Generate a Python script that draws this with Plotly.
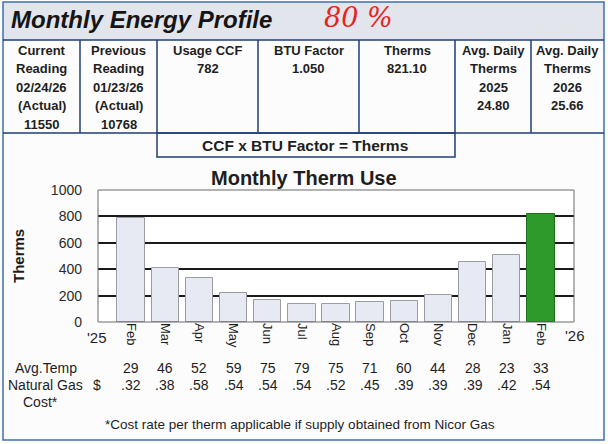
import plotly.graph_objects as go

# ---------------- data ----------------
months = ["Feb", "Mar", "Apr", "May", "Jun", "Jul", "Aug", "Sep", "Oct", "Nov", "Dec", "Jan", "Feb"]
therms = [790, 410, 330, 217, 170, 140, 140, 150, 160, 202, 455, 506, 821]
avg_temp = [29, 46, 52, 59, 75, 79, 75, 71, 60, 44, 28, 23, 33]
gas_cost = [".32", ".38", ".58", ".54", ".54", ".54", ".52", ".45", ".39", ".39", ".39", ".42", ".54"]
year_labels = ["'25", "'26"]
year_pos = [-1, 13]
y_ticks = [0, 200, 400, 600, 800, 1000]

table_cols = [
    ["Current", "Reading", "02/24/26", "(Actual)", "11550"],
    ["Previous", "Reading", "01/23/26", "(Actual)", "10768"],
    ["Usage CCF", "782"],
    ["BTU Factor", "1.050"],
    ["Therms", "821.10"],
    ["Avg. Daily", "Therms", "2025", "24.80"],
    ["Avg. Daily", "Therms", "2026", "25.66"],
]
formula_text = "CCF x BTU Factor = Therms"
title_text = "Monthly Energy Profile"
chart_title = "Monthly Therm Use"
footnote = "*Cost rate per therm applicable if supply obtained from Nicor Gas"

# ---------------- geometry helpers ----------------
W, H = 608, 444
ML, MR, MT, MB = 98, 34, 190, 122
PW, PH = W - ML - MR, H - MT - MB
XR = [-0.97, 12.97]


def px(x):
    return (x - ML) / PW


def py(y):
    return 1 - (y - MT) / PH


def dx(v):
    return (v - XR[0]) / (XR[1] - XR[0])


FONT = "Liberation Sans, Arial, sans-serif"
DARK = "#1e1e1e"
LINE_BLUE = "#1f3f73"
OUTER_BLUE = "#3f6fae"

colors = ["#e7e9f3"] * (len(months) - 1) + ["#2f9a2c"]
line_cols = ["#9a9ca3"] * (len(months) - 1) + ["#1f6e1c"]

fig = go.Figure()
fig.add_trace(go.Bar(
    x=list(range(len(months))), y=therms, width=0.8,
    marker=dict(color=colors, line=dict(color=line_cols, width=1)),
    hoverinfo="skip",
))

shapes = []
annotations = []

# header band
shapes.append(dict(type="rect", xref="paper", yref="paper", x0=px(3), x1=px(604), y0=py(2), y1=py(40),
                   fillcolor="#e3e5ec", line=dict(width=0), layer="below"))
# outer border
shapes.append(dict(type="rect", xref="paper", yref="paper", x0=px(3), x1=px(604), y0=py(2), y1=py(440),
                   fillcolor="rgba(0,0,0,0)", line=dict(color=OUTER_BLUE, width=1.5)))
# table lines
shapes.append(dict(type="line", xref="paper", yref="paper", x0=px(3), x1=px(604), y0=py(40), y1=py(40),
                   line=dict(color=LINE_BLUE, width=1.5)))
shapes.append(dict(type="line", xref="paper", yref="paper", x0=px(3), x1=px(604), y0=py(133), y1=py(133),
                   line=dict(color=LINE_BLUE, width=1.5)))
col_edges = [3, 80, 157, 258, 359, 455, 531, 604]
for xe in col_edges[1:-1]:
    shapes.append(dict(type="line", xref="paper", yref="paper", x0=px(xe), x1=px(xe), y0=py(40), y1=py(133),
                       line=dict(color=LINE_BLUE, width=1.5)))
# formula box
shapes.append(dict(type="rect", xref="paper", yref="paper", x0=px(157), x1=px(455), y0=py(133), y1=py(157),
                   fillcolor="rgba(0,0,0,0)", line=dict(color=LINE_BLUE, width=1.5)))
# plot frame
shapes.append(dict(type="rect", xref="paper", yref="paper", x0=0, x1=1, y0=0, y1=1,
                   fillcolor="rgba(0,0,0,0)", line=dict(color="#6a6a6a", width=1)))


def ann(text, x, y, size=13, bold=False, color=DARK, xanchor="center", italic=False, angle=0,
        family=FONT):
    t = text
    if bold:
        t = "<b>" + t + "</b>"
    if italic:
        t = "<i>" + t + "</i>"
    annotations.append(dict(text=t, x=x, y=py(y), xref="paper", yref="paper", showarrow=False,
                            xanchor=xanchor, yanchor="middle", textangle=angle,
                            font=dict(family=family, size=size, color=color)))


ann(title_text, px(9), 20, size=24, bold=True, italic=True, xanchor="left", color="#151515")
ann("80 %", px(322), 17, size=27, color="#e8231f", xanchor="left", family="DejaVu Serif, serif", italic=True)

# table text
for i, col in enumerate(table_cols):
    cx = (col_edges[i] + col_edges[i + 1]) / 2
    for j, line in enumerate(col):
        ann(line, px(cx), 50 + j * 18.5, size=13, bold=True)
ann(formula_text, px(305), 145, size=15.5, bold=True)
ann(chart_title, px(304), 178, size=20, bold=True)

# axis title & year labels
ann("Therms", px(18), 256, size=15, bold=True, angle=-90)
ann(year_labels[0], dx(year_pos[0]), 337, size=15)
ann(year_labels[1], dx(year_pos[1]), 335, size=15)

# rows below chart
ann("Avg.Temp", px(46), 368, size=14)
ann("Natural Gas", px(45), 385, size=14)
ann("$", px(97), 385, size=14)
ann("Cost*", px(40), 402, size=14)
for i in range(len(months)):
    ann(str(avg_temp[i]), dx(i), 368, size=14)
    ann(gas_cost[i], dx(i), 385, size=14)
ann(footnote, px(300), 424, size=13.5)

fig.update_layout(
    width=W, height=H,
    margin=dict(l=ML, r=MR, t=MT, b=MB, pad=0),
    paper_bgcolor="#fcfcfc", plot_bgcolor="#ffffff",
    showlegend=False, bargap=0,
    shapes=shapes, annotations=annotations,
    font=dict(family=FONT, color=DARK),
    xaxis=dict(range=XR, tickmode="array", tickvals=list(range(len(months))), ticktext=months,
               tickangle=90, tickfont=dict(size=13, color=DARK), showgrid=False, zeroline=False,
               showline=False, ticks=""),
    yaxis=dict(range=[0, 1000], tickmode="array", tickvals=y_ticks, ticktext=[str(v) for v in y_ticks],
               tickfont=dict(size=14, color="#2a2a2a"), showgrid=True, gridcolor="#1a1a1a", gridwidth=2,
               zeroline=False, showline=False, ticks="", ticklabelstandoff=15),
)

fig.write_html("out.html")
